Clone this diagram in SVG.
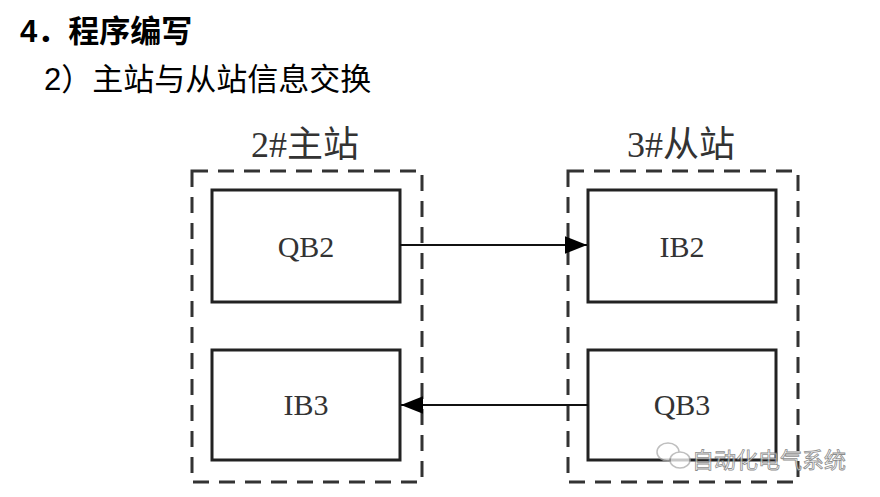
<svg xmlns="http://www.w3.org/2000/svg" width="880" height="497" viewBox="0 0 880 497">
<style>
.dash{fill:none;stroke:#333;stroke-width:3;stroke-dasharray:16,10}
.box{fill:#fff;stroke:#222;stroke-width:3}
.lbl{font-family:"Liberation Serif","Noto Sans CJK SC",serif;font-size:30px;fill:#333;text-anchor:middle}
.st{font-size:36px}
.hd{font-family:"Liberation Sans","Noto Sans CJK SC",sans-serif;fill:#000}
.ln{stroke:#111;stroke-width:2;fill:none}
</style>
<defs><marker id="a" viewBox="0 0 10 10" refX="10" refY="5" markerWidth="22" markerHeight="22" markerUnits="userSpaceOnUse" orient="auto"><path d="M0,1L10,5L0,9z" fill="#000"/></marker></defs>
<rect width="880" height="497" fill="#fff"/>
<text x="20" y="42" class="hd" font-size="31" font-weight="bold">4．程序编写</text>
<text x="44" y="90" class="hd" font-size="31">2）主站与从站信息交换</text>
<g id="master"><rect class="dash" x="192" y="171" width="230" height="311"/><text class="lbl st" x="305" y="157">2#主站</text></g>
<g id="slave"><rect class="dash" x="568" y="171" width="230" height="311"/><text class="lbl st" x="681" y="157">3#从站</text></g>
<g id="QB2"><rect class="box" x="212" y="190" width="188" height="112"/><text class="lbl" x="306" y="257">QB2</text></g>
<g id="IB3"><rect class="box" x="212" y="350" width="188" height="110"/><text class="lbl" x="306" y="415">IB3</text></g>
<g id="IB2"><rect class="box" x="588" y="190" width="188" height="112"/><text class="lbl" x="682" y="257">IB2</text></g>
<g id="QB3"><rect class="box" x="588" y="350" width="188" height="110"/><text class="lbl" x="682" y="415">QB3</text></g>
<g id="connectors">
<line class="ln" x1="400" y1="245" x2="587" y2="245" marker-end="url(#a)"/>
<line class="ln" x1="588" y1="405" x2="401" y2="405" marker-end="url(#a)"/>
</g>
<g id="watermark" opacity="0.75">
<ellipse cx="668" cy="452" rx="11" ry="9" fill="#fff" stroke="#aaa" stroke-width="1.5"/>
<ellipse cx="680" cy="460" rx="10" ry="8" fill="#fff" stroke="#aaa" stroke-width="1.5"/>
<text x="692" y="468" font-family="'Noto Sans CJK SC',sans-serif" font-size="22" fill="#fff" stroke="#666" stroke-width="0.8">自动化电气系统</text>
</g>
</svg>
